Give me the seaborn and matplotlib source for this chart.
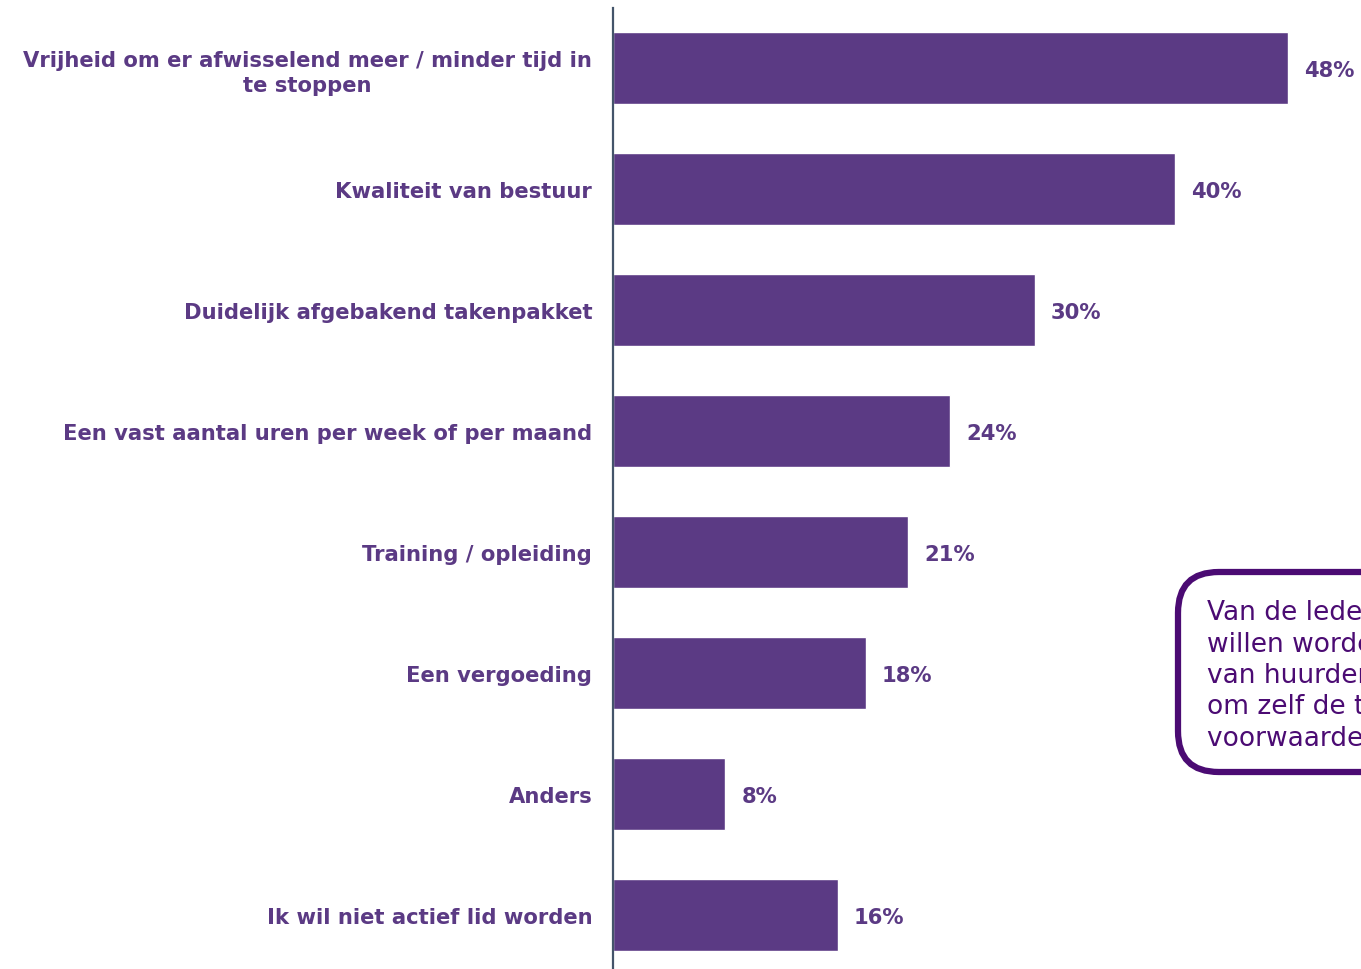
import matplotlib
matplotlib.use("Agg")
import matplotlib.pyplot as plt
from matplotlib.patches import FancyBboxPatch
import seaborn as sns
import pandas as pd

# Survey answers: what would help members become active
categories = [
    "Vrijheid om er afwisselend meer / minder tijd in\nte stoppen",
    "Kwaliteit van bestuur",
    "Duidelijk afgebakend takenpakket",
    "Een vast aantal uren per week of per maand",
    "Training / opleiding",
    "Een vergoeding",
    "Anders",
    "Ik wil niet actief lid worden",
]
percentages = [48, 40, 30, 24, 21, 18, 8, 16]

note_text = ("Van de leden die actief lid\n"
             "willen worden, wil de helft\n"
             "van huurders de vrijheid\n"
             "om zelf de tijd en de\n"
             "voorwaarden te bepalen")

bar_color = "#5B3A84"
text_color = "#5B3A84"
note_color = "#4B0B73"
axis_color = "#44546A"

df = pd.DataFrame({"categorie": categories, "percentage": percentages})

sns.set_theme(style="white")
plt.rcParams["font.family"] = ["DejaVu Sans"]

fig = plt.figure(figsize=(13.61, 9.70), dpi=100)
ax = fig.add_axes([613 / 1361, 0.0, 1 - 613 / 1361, 961 / 970])

sns.barplot(data=df, x="percentage", y="categorie", orient="h",
            color=bar_color, saturation=1, width=0.59, ax=ax)

ax.set_xlim(0, 53.2)
ax.set_ylim(len(categories) - 1 + 0.446, -0.496)
ax.set_xlabel("")
ax.set_ylabel("")
ax.set_xticks([])

for side in ["top", "right", "bottom"]:
    ax.spines[side].set_visible(False)
ax.spines["left"].set_color(axis_color)
ax.spines["left"].set_linewidth(1.6)

ax.tick_params(axis="y", length=0, pad=15)
for lbl in ax.get_yticklabels():
    lbl.set_fontsize(15.2)
    lbl.set_fontweight("bold")
    lbl.set_color(text_color)
    lbl.set_multialignment("center")
    lbl.set_linespacing(1.3)

for i, v in enumerate(percentages):
    ax.annotate(f"{v}%", xy=(v, i), xytext=(11.5, -1.5), textcoords="offset points",
                ha="left", va="center", fontsize=15.2, fontweight="bold",
                color=text_color)

# Rounded call-out box on the right, running off the figure edge
box = FancyBboxPatch((1178 / 1361, 1 - 773 / 970), 0.30, 200 / 970,
                     boxstyle="round,pad=0,rounding_size=0.03",
                     transform=fig.transFigure, facecolor="white",
                     edgecolor=note_color, linewidth=4.5, clip_on=False,
                     mutation_aspect=1361 / 970)
fig.add_artist(box)
fig.text(1207 / 1361, 1 - 676 / 970, note_text, ha="left", va="center",
         fontsize=19, color=note_color, linespacing=1.27)

fig.savefig("out.png", dpi=100)
